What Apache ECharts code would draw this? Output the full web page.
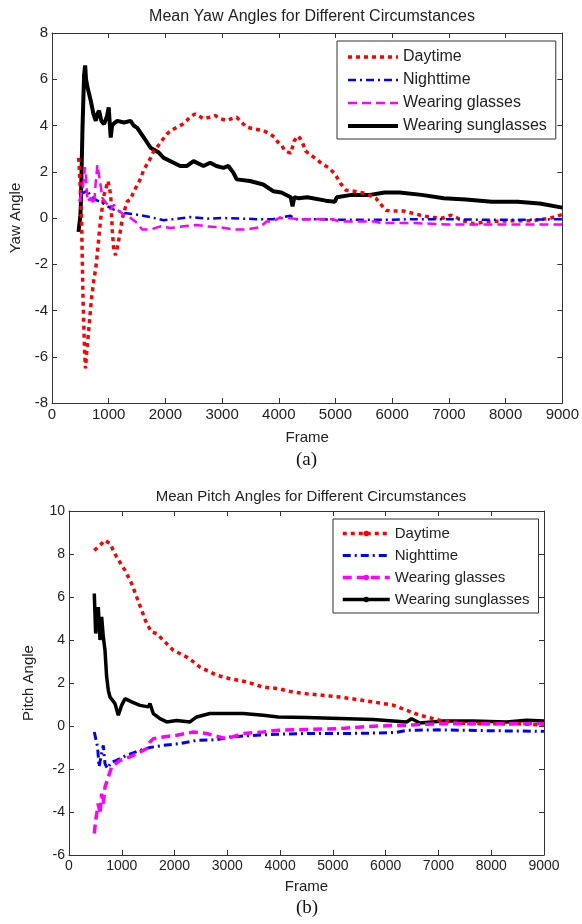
<!DOCTYPE html>
<html>
<head>
<meta charset="utf-8">
<script src="https://cdn.jsdelivr.net/npm/echarts@6/dist/echarts.min.js"></script>
<style>
  html, body { margin: 0; padding: 0; background: #fff; }
  #main { width: 582px; height: 924px; }
</style>
</head>
<body>
<div id="main"></div>
<script>
// 图例名称
var seriesNames = ['Daytime', 'Nighttime', 'Wearing glasses', 'Wearing sunglasses'];
var xTicks = [0, 1000, 2000, 3000, 4000, 5000, 6000, 7000, 8000, 9000];

// (a) Yaw  [frame, angle]
var yawDaytime = [[470,2.6],[488,1.9],[520,0.05],[547,-3.5],[575,-5.8],[590,-6.5],[612,-5.8],[638,-5.1],[696,-3.5],[742,-2.6],[770,-2.2],[801,-1.5],[835,-0.6],[860,0.0],[918,1.0],[988,1.6],[1035,1.0],[1064,-0.58],[1093,-1.45],[1120,-1.6],[1151,-1.3],[1210,-0.5],[1240,0.0],[1327,0.72],[1386,0.8],[1444,1.16],[1500,1.4],[1561,1.7],[1620,2.1],[1678,2.33],[1740,2.6],[1795,2.9],[1854,3.06],[1940,3.35],[2029,3.64],[2110,3.8],[2204,3.93],[2300,4.05],[2380,4.22],[2450,4.4],[2526,4.5],[2600,4.4],[2672,4.29],[2770,4.35],[2877,4.43],[2960,4.3],[3082,4.22],[3170,4.3],[3257,4.36],[3340,4.15],[3433,3.93],[3560,3.85],[3725,3.78],[3842,3.64],[3920,3.5],[3988,3.27],[4047,3.15],[4110,2.9],[4210,2.8],[4274,3.35],[4340,3.55],[4405,3.35],[4470,2.9],[4550,2.75],[4632,2.6],[4762,2.35],[4893,2.15],[4990,1.9],[5088,1.5],[5185,1.2],[5348,1.15],[5543,1.05],[5714,0.85],[5830,0.5],[5890,0.33],[6000,0.3],[6200,0.3],[6370,0.2],[6500,0.12],[6700,0.02],[6900,0.0],[7040,0.12],[7150,0.0],[7250,-0.12],[7430,-0.25],[7690,-0.15],[8081,-0.12],[8471,-0.12],[8797,0.0],[9000,0.15]];
var yawNighttime = [[480,1.0],[560,1.1],[626,1.2],[680,0.95],[742,0.85],[800,0.75],[860,0.7],[920,0.6],[977,0.5],[1093,0.36],[1268,0.22],[1503,0.14],[1737,0.04],[1970,-0.1],[2205,-0.03],[2439,0.04],[2732,-0.03],[3000,0.0],[3300,-0.02],[3600,-0.05],[3900,-0.05],[4100,0.05],[4200,0.1],[4300,-0.05],[4700,-0.05],[5200,-0.08],[5800,-0.08],[6400,-0.05],[7000,-0.05],[7600,-0.08],[8200,-0.08],[9000,-0.05]];
var yawGlasses = [[480,0.72],[510,0.98],[540,1.3],[567,1.74],[580,2.2],[596,1.9],[626,0.72],[684,0.87],[742,0.58],[770,1.5],[801,2.3],[820,2.0],[848,1.57],[889,0.87],[977,0.58],[1035,0.36],[1093,0.58],[1151,0.36],[1268,0.14],[1386,0.0],[1503,-0.22],[1591,-0.5],[1737,-0.5],[1912,-0.36],[2088,-0.43],[2322,-0.36],[2556,-0.3],[2732,-0.36],[2965,-0.4],[3100,-0.45],[3200,-0.5],[3430,-0.5],[3667,-0.4],[3784,-0.15],[3900,-0.15],[4000,0.0],[4140,0.0],[4370,-0.05],[4950,-0.05],[5070,-0.15],[5700,-0.15],[5800,-0.22],[6400,-0.22],[7000,-0.28],[8000,-0.28],[9000,-0.28]];
var yawSunglasses = [[468,-0.6],[500,0.1],[509,0.58],[538,3.9],[566,6.2],[585,6.6],[600,6.0],[626,5.65],[684,5.07],[730,4.5],[772,4.2],[800,4.5],[830,4.64],[870,4.2],[918,4.06],[970,4.4],[1000,4.78],[1018,4.78],[1035,3.48],[1060,4.0],[1100,4.1],[1152,4.2],[1269,4.13],[1386,4.2],[1440,4.0],[1503,3.9],[1620,3.48],[1737,3.04],[1883,2.83],[1970,2.6],[2146,2.39],[2260,2.25],[2380,2.25],[2497,2.46],[2672,2.25],[2789,2.39],[2900,2.25],[3023,2.17],[3111,2.25],[3200,1.95],[3257,1.67],[3491,1.6],[3725,1.45],[3900,1.16],[4047,1.1],[4210,0.9],[4242,0.5],[4274,0.9],[4350,0.85],[4502,0.9],[4827,0.75],[4990,0.7],[5023,0.9],[5283,1.0],[5608,1.0],[5868,1.1],[6128,1.1],[6519,1.0],[6909,0.85],[7300,0.8],[7755,0.7],[8211,0.7],[8601,0.63],[9000,0.45]];

// (b) Pitch  [frame, angle]
var pitchDaytime = [[479,8.17],[587,8.4],[682,8.64],[777,8.48],[903,7.86],[1061,7.24],[1187,6.62],[1282,6.0],[1377,5.38],[1471,4.76],[1566,4.37],[1661,4.3],[1786,3.99],[1976,3.52],[2229,3.21],[2350,3.0],[2481,2.74],[2797,2.36],[3049,2.2],[3365,2.05],[3680,1.81],[3964,1.74],[4200,1.6],[4501,1.5],[5133,1.35],[5764,1.12],[6142,0.97],[6396,0.73],[6648,0.5],[6900,0.34],[7089,0.23],[7500,0.12],[8000,0.1],[8500,0.1],[9000,0.05]];
var pitchNighttime = [[479,-0.28],[542,-0.98],[568,-1.9],[606,-1.43],[650,-0.9],[682,-1.75],[726,-1.98],[808,-1.67],[903,-1.6],[1093,-1.36],[1345,-1.13],[1534,-1.0],[1786,-0.9],[2102,-0.82],[2418,-0.67],[2797,-0.64],[3049,-0.51],[3555,-0.43],[3964,-0.38],[4501,-0.35],[5133,-0.35],[5764,-0.33],[6200,-0.3],[6396,-0.2],[7000,-0.18],[8000,-0.22],[9000,-0.25]];
var pitchGlasses = [[479,-5.0],[505,-4.39],[555,-3.61],[587,-4.07],[619,-3.15],[650,-3.61],[682,-2.84],[745,-2.37],[808,-1.9],[966,-1.6],[1155,-1.44],[1345,-1.21],[1471,-1.05],[1534,-0.74],[1597,-0.59],[1786,-0.51],[2040,-0.43],[2355,-0.28],[2607,-0.35],[2986,-0.59],[3301,-0.35],[3680,-0.28],[3964,-0.2],[4501,-0.16],[5133,-0.12],[5764,-0.01],[6396,0.04],[7027,0.11],[8000,0.11],[9000,0.1]];
var pitchSunglasses = [[479,6.16],[505,4.3],[555,5.53],[587,4.0],[619,5.07],[650,4.15],[682,3.52],[713,2.3],[745,1.66],[777,1.35],[871,1.04],[934,0.5],[997,0.96],[1061,1.27],[1187,1.12],[1345,0.96],[1503,0.89],[1534,1.04],[1597,0.58],[1724,0.34],[1850,0.19],[2040,0.26],[2292,0.19],[2418,0.42],[2670,0.58],[2923,0.58],[3301,0.58],[3680,0.5],[3964,0.42],[4501,0.39],[5764,0.3],[6396,0.19],[6490,0.34],[6648,0.14],[7089,0.23],[7658,0.23],[8290,0.19],[8669,0.27],[9000,0.23]];

var colors = ['#ff0000', '#0000ff', '#ff00ff', '#000000'];
var dashTypes = [[4, 4], [8, 4, 2, 4], [9, 5], 'solid'];
var fontSans = 'Liberation Sans';

var myChart = echarts.init(document.getElementById('main'));

// 坐标轴
function makeX(grid, showLabel, pos, fs) {
  return {
    type: 'value', gridIndex: grid, position: pos,
    min: xTicks[0], max: xTicks[xTicks.length - 1], interval: xTicks[1] - xTicks[0],
    name: showLabel ? 'Frame' : '',
    nameLocation: 'middle', nameGap: grid === 0 ? 27 : 24,
    nameTextStyle: { fontFamily: fontSans, fontSize: 15, color: '#222' },
    axisLine: { show: true, onZero: false, lineStyle: { color: '#333', width: 1 } },
    axisTick: { show: true, inside: true, length: 5, lineStyle: { color: '#333' } },
    axisLabel: { show: showLabel, margin: 4, fontFamily: fontSans, fontSize: fs, color: '#222',
      formatter: function (v) { return String(v); } },
    splitLine: { show: false }
  };
}
function makeY(grid, showLabel, pos, min, max, name, gap, fs) {
  return {
    type: 'value', gridIndex: grid, position: pos,
    min: min, max: max, interval: 2,
    name: showLabel ? name : '',
    nameLocation: 'middle', nameGap: gap,
    nameTextStyle: { fontFamily: fontSans, fontSize: 15, color: '#222' },
    axisLine: { show: true, onZero: false, lineStyle: { color: '#333', width: 1 } },
    axisTick: { show: true, inside: true, length: 5, lineStyle: { color: '#333' } },
    axisLabel: { show: showLabel, margin: 4, fontFamily: fontSans, fontSize: fs, color: '#222' },
    splitLine: { show: false }
  };
}

var yawData = [yawDaytime, yawNighttime, yawGlasses, yawSunglasses];
var pitchData = [pitchDaytime, pitchNighttime, pitchGlasses, pitchSunglasses];
var yawWidth = [3.5, 2.5, 2.5, 4];
var pitchWidth = [3.5, 3, 3.5, 3.5];

var series = [];
seriesNames.forEach(function (nm, i) {
  series.push({
    name: nm, type: 'line', xAxisIndex: 0, yAxisIndex: 0,
    data: yawData[i], symbol: 'none', showSymbol: false,
    color: colors[i],
    lineStyle: { color: colors[i], width: yawWidth[i], type: dashTypes[i] },
    z: i === 3 ? 1 : 2
  });
});
seriesNames.forEach(function (nm, i) {
  series.push({
    name: nm + ' (b)', type: 'line', xAxisIndex: 2, yAxisIndex: 2,
    data: pitchData[i], symbol: 'circle', showSymbol: false,
    color: colors[i],
    lineStyle: { color: colors[i], width: pitchWidth[i], type: dashTypes[i] },
    z: i === 3 ? 1 : 2
  });
});

option = {
  backgroundColor: '#fff',
  animation: false,
  title: [
    { text: 'Mean Yaw Angles for Different Circumstances', left: 307, top: 4, textAlign: 'center',
      textStyle: { fontFamily: fontSans, fontSize: 16, fontWeight: 'normal', color: '#222' } },
    { text: 'Mean Pitch Angles for Different Circumstances', left: 306, top: 484, textAlign: 'center',
      textStyle: { fontFamily: fontSans, fontSize: 15, fontWeight: 'normal', color: '#222' } }
  ],
  grid: [
    { left: 51, top: 33, width: 513, height: 370 },
    { left: 69, top: 511, width: 475, height: 344 }
  ],
  xAxis: [
    makeX(0, true, 'bottom', 15), makeX(0, false, 'top', 15),
    makeX(1, true, 'bottom', 14), makeX(1, false, 'top', 14)
  ],
  yAxis: [
    makeY(0, true, 'left', -8, 8, 'Yaw Angle', 29, 15), makeY(0, false, 'right', -8, 8, '', 0, 15),
    makeY(1, true, 'left', -6, 10, 'Pitch Angle', 33, 14), makeY(1, false, 'right', -6, 10, '', 0, 14)
  ],
  legend: [
    {
      orient: 'vertical', left: 337, top: 41,
      data: seriesNames,
      itemWidth: 50, itemHeight: 8, itemGap: 7,
      padding: [8, 9, 5, 9],
      borderColor: '#333', borderWidth: 1, backgroundColor: '#fff',
      itemStyle: { opacity: 0 },
      lineStyle: { width: 'inherit' },
      textStyle: { fontFamily: fontSans, fontSize: 16, color: '#222' }
    },
    {
      orient: 'vertical', left: 333, top: 519,
      data: seriesNames.map(function (nm, i) {
        var d = { name: nm + ' (b)' };
        if (i === 1) d.itemStyle = { opacity: 0 };
        return d;
      }),
      formatter: function (name) { return name.replace(' (b)', ''); },
      itemWidth: 47, itemHeight: 7, itemGap: 7,
      padding: [7, 9, 6, 8],
      borderColor: '#333', borderWidth: 1, backgroundColor: '#fff',
      lineStyle: { width: 'inherit' },
      textStyle: { fontFamily: fontSans, fontSize: 15, color: '#222' }
    }
  ],
  graphic: [
    { type: 'text', left: 296, top: 451, style: { text: '(a)', font: '19px "Liberation Serif"', fill: '#111' } },
    { type: 'text', left: 296, top: 899, style: { text: '(b)', font: '19px "Liberation Serif"', fill: '#111' } }
  ],
  series: series
};

myChart.setOption(option);
</script>
</body>
</html>
